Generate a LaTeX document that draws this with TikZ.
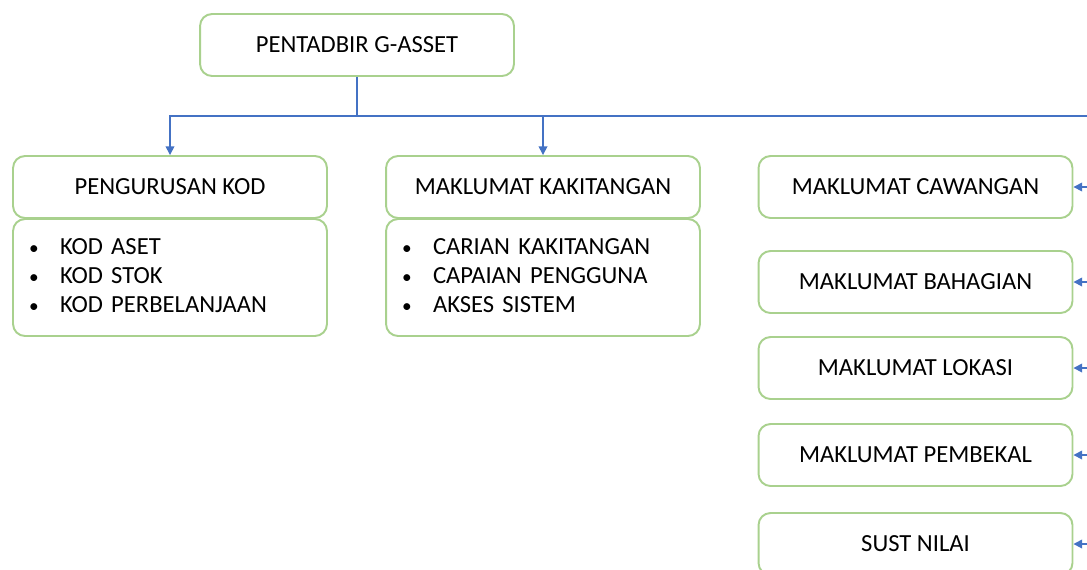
\documentclass[tikz,border=0pt]{standalone}
\usepackage{fontspec}
\setmainfont{Carlito}
\usetikzlibrary{arrows.meta}
\definecolor{boxgreen}{HTML}{A9D18E}
\definecolor{linkblue}{HTML}{4472C4}
\tikzset{
  box/.style={draw=boxgreen,line width=1.1pt,rounded corners=0.24cm,fill=white,
    minimum width=6.28cm,minimum height=1.24cm,inner sep=0pt,font=\fontsize{14}{16.5}\selectfont},
  listbox/.style={box,minimum height=2.34cm,text width=5.64cm,inner xsep=0.32cm},
  conn/.style={linkblue,line width=0.9pt,-{Triangle[length=5pt,width=5pt]}},
  busline/.style={linkblue,line width=0.9pt}
}
\newcommand{\itm}{{\fontsize{11}{11}\selectfont •}}
\newenvironment{itmlist}{\renewcommand{\arraystretch}{1}\begin{tabular}{@{}p{0.62cm}@{}l@{}}}{\end{tabular}}
\begin{document}
\begin{tikzpicture}[x=0.02cm,y=-0.02cm]
\useasboundingbox (0,0) rectangle (1087,569);
% top
\node[box] (admin) at (357,45) {PENTADBIR G-ASSET};
% first row
\node[box] (kod) at (170,187) {PENGURUSAN KOD};
\node[listbox] (kodlist) at (170,277.5) {\begin{itmlist}\itm & KOD ASET\\ \itm & KOD STOK\\ \itm & KOD PERBELANJAAN\end{itmlist}};
\node[box] (staff) at (543,187) {MAKLUMAT KAKITANGAN};
\node[listbox] (stafflist) at (543,277.5) {\begin{itmlist}\itm & CARIAN KAKITANGAN\\ \itm & CAPAIAN PENGGUNA\\ \itm & AKSES SISTEM\end{itmlist}};
% right column
\node[box] (cawangan) at (915.5,187) {MAKLUMAT CAWANGAN};
\node[box] (bahagian) at (915.5,282) {MAKLUMAT BAHAGIAN};
\node[box] (lokasi) at (915.5,368) {MAKLUMAT LOKASI};
\node[box] (pembekal) at (915.5,455) {MAKLUMAT PEMBEKAL};
\node[box] (sust) at (915.5,544) {SUST NILAI};
% connectors
\coordinate (bus) at (357,116);
\coordinate (busend) at (1087,116);
\draw[busline] (admin.south) -- (bus) -- (busend);
\draw[conn] (bus) -| (kod.north);
\draw[conn] (bus) -| (staff.north);
\foreach \n in {cawangan,bahagian,lokasi,pembekal,sust}{
  \coordinate (\n-in) at (1087,0 |- \n.east);
  \draw[conn] (\n-in) -- (\n.east);
}
\end{tikzpicture}
\end{document}
